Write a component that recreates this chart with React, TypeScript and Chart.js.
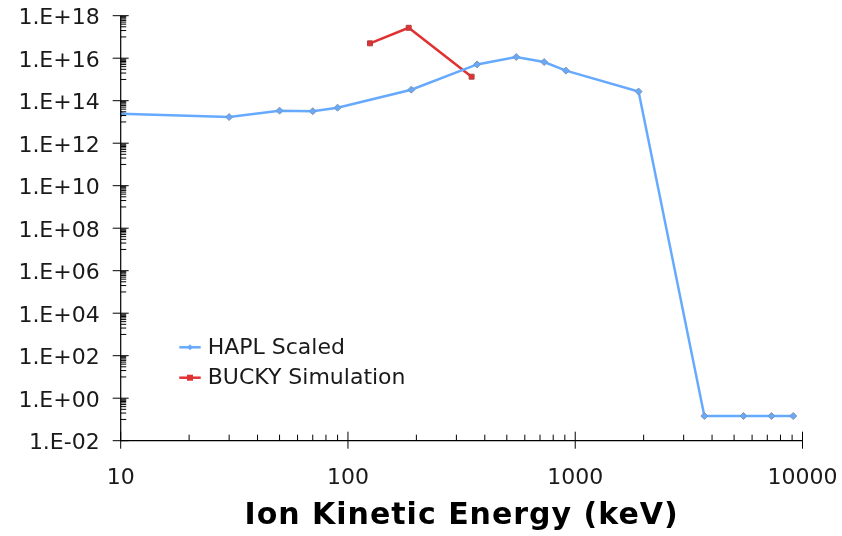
import React, { useEffect, useRef } from 'react';
import { Chart, registerables } from 'chart.js';

Chart.register(...registerables);

// ---- data ----
const haplEnergy = [10, 30, 50, 70, 90, 190, 370, 550, 730, 910, 1900, 3700, 5500, 7300, 9100];
const haplValue = [2.4e13, 1.7e13, 3.4e13, 3.2e13, 4.7e13, 3.3e14, 5.1e15, 1.14e16, 6.6e15, 2.6e15, 2.7e14, 0.145, 0.145, 0.145, 0.145];
const buckyEnergy = [125, 185, 350];
const buckyValue = [5.0e16, 2.7e17, 1.35e15];
const seriesNames = ['HAPL Scaled', 'BUCKY Simulation'];
const xTickValues = [10, 100, 1000, 10000];
const yTickValues = [1e-2, 1e0, 1e2, 1e4, 1e6, 1e8, 1e10, 1e12, 1e14, 1e16, 1e18];
const xTitle = 'Ion Kinetic Energy (keV)';

const BLUE = '#66aaff';
const RED = '#e03232';
const FONT = 'DejaVu Sans';

const fmtY = (v: number) => {
  const e = Math.round(Math.log10(v));
  return '1.E' + (e < 0 ? '-' : '+') + String(Math.abs(e)).padStart(2, '0');
};

const zeroPad = (s: any) => {
  s.paddingTop = 0;
  s.paddingBottom = 0;
  s.paddingLeft = 0;
  s.paddingRight = 0;
};

const axisPlugin = {
  id: 'excelAxes',
  afterDraw(chart: any) {
    const { ctx, chartArea, scales } = chart;
    const xs = scales.x;
    const ys = scales.y;
    const L = chartArea.left;
    const B = chartArea.bottom;
    ctx.save();
    ctx.strokeStyle = '#000';
    ctx.lineWidth = 1.2;
    // axis lines
    ctx.beginPath();
    ctx.moveTo(L, chartArea.top);
    ctx.lineTo(L, B);
    ctx.lineTo(chartArea.right, B);
    ctx.stroke();
    ctx.lineWidth = 1;
    // y ticks
    const yMin = Math.round(Math.log10(yTickValues[0]));
    const yMax = Math.round(Math.log10(yTickValues[yTickValues.length - 1]));
    for (let e = yMin; e <= yMax; e += 2) {
      const p = ys.getPixelForValue(Math.pow(10, e));
      ctx.beginPath();
      ctx.moveTo(L - 8, p);
      ctx.lineTo(L + 8, p);
      ctx.stroke();
      if (e < yMax) {
        for (let j = 1; j <= 9; j++) {
          const q = ys.getPixelForValue(j * Math.pow(10, e + 1));
          ctx.beginPath();
          ctx.moveTo(L, q);
          ctx.lineTo(L + 5.5, q);
          ctx.stroke();
        }
      }
    }
    // x ticks
    for (let d = 1; d <= 4; d++) {
      const p = xs.getPixelForValue(Math.pow(10, d));
      ctx.beginPath();
      ctx.moveTo(p, B - 9);
      ctx.lineTo(p, B + 8);
      ctx.stroke();
      if (d < 4) {
        for (let j = 2; j <= 9; j++) {
          const q = xs.getPixelForValue(j * Math.pow(10, d));
          ctx.beginPath();
          ctx.moveTo(q, B - 6);
          ctx.lineTo(q, B);
          ctx.stroke();
        }
      }
    }
    // axis title
    ctx.fillStyle = '#000';
    ctx.font = 'bold 30px "' + FONT + '"';
    (ctx as any).letterSpacing = '1px';
    ctx.textAlign = 'center';
    ctx.textBaseline = 'alphabetic';
    ctx.fillText(xTitle, (chartArea.left + chartArea.right) / 2, 524);
    (ctx as any).letterSpacing = '0px';
    // legend
    const items = [
      { name: seriesNames[0], color: BLUE, style: 'diamond' },
      { name: seriesNames[1], color: RED, style: 'square' },
    ];
    ctx.font = '22px "' + FONT + '"';
    ctx.textBaseline = 'middle';
    ctx.textAlign = 'left';
    items.forEach((it, i) => {
      const y = chartArea.top + 331.6 + i * 30.4;
      const x0 = L + 58.6;
      const x1 = L + 80;
      ctx.strokeStyle = it.color;
      ctx.lineWidth = 2.5;
      ctx.beginPath();
      ctx.moveTo(x0, y);
      ctx.lineTo(x1, y);
      ctx.stroke();
      ctx.fillStyle = it.color;
      const cx = (x0 + x1) / 2;
      if (it.style === 'square') {
        ctx.fillRect(cx - 3, y - 3, 6, 6);
      } else {
        ctx.beginPath();
        ctx.moveTo(cx, y - 3);
        ctx.lineTo(cx + 3, y);
        ctx.lineTo(cx, y + 3);
        ctx.lineTo(cx - 3, y);
        ctx.closePath();
        ctx.fill();
      }
      ctx.fillStyle = '#1a1a1a';
      ctx.fillText(it.name, L + 87, y + 1);
    });
    ctx.restore();
  },
};

export default function App() {
  const ref = useRef<HTMLCanvasElement | null>(null);
  useEffect(() => {
    if (!ref.current) return;
    const chart = new Chart(ref.current, {
      type: 'line',
      data: {
        datasets: [
          {
            label: seriesNames[0],
            data: haplEnergy.map((x, i) => ({ x, y: haplValue[i] })),
            borderColor: BLUE,
            backgroundColor: BLUE,
            borderWidth: 2.5,
            pointStyle: 'rectRot',
            pointRadius: 3.5,
            pointBackgroundColor: BLUE,
            pointBorderColor: '#7f95b0',
            pointBorderWidth: 1,
            tension: 0,
          },
          {
            label: seriesNames[1],
            data: buckyEnergy.map((x, i) => ({ x, y: buckyValue[i] })),
            borderColor: RED,
            backgroundColor: RED,
            borderWidth: 2.5,
            pointStyle: 'rect',
            pointRadius: 3.5,
            pointBackgroundColor: RED,
            pointBorderColor: '#b04040',
            pointBorderWidth: 1,
            tension: 0,
          },
        ],
      },
      options: {
        animation: false,
        responsive: false,
        devicePixelRatio: 1,
        layout: { padding: { top: 15.7, right: 39.5, left: 0, bottom: 0 } },
        plugins: { legend: { display: false }, tooltip: { enabled: false } },
        scales: {
          x: {
            type: 'logarithmic',
            min: 10,
            max: 10000,
            afterBuildTicks: (s: any) => {
              s.ticks = xTickValues.map((v) => ({ value: v }));
            },
            afterFit: (s: any) => {
              s.height = 536 - 440.7;
              zeroPad(s);
            },
            grid: { display: false, drawTicks: false },
            border: { display: false },
            ticks: {
              autoSkip: false,
              maxRotation: 0,
              padding: 24,
              color: '#1a1a1a',
              font: { family: FONT, size: 22 },
              callback: (v: any) => String(v),
            },
            title: { display: false },
          },
          y: {
            type: 'logarithmic',
            min: 1e-2,
            max: 1e18,
            afterBuildTicks: (s: any) => {
              s.ticks = yTickValues.map((v) => ({ value: v }));
            },
            afterFit: (s: any) => {
              s.width = 120.7;
              zeroPad(s);
            },
            grid: { display: false, drawTicks: false },
            border: { display: false },
            ticks: {
              autoSkip: false,
              padding: 21,
              labelOffset: 3,
              color: '#1a1a1a',
              font: { family: FONT, size: 22 },
              callback: (v: any) => fmtY(Number(v)),
            },
          },
        },
      },
      plugins: [axisPlugin],
    } as any);
    return () => chart.destroy();
  }, []);
  return (
    <div style={{ position: 'fixed', left: 0, top: 0, width: 842, height: 536, background: '#fff' }}>
      <canvas ref={ref} width={842} height={536} style={{ width: 842, height: 536, display: 'block' }} />
    </div>
  );
}
